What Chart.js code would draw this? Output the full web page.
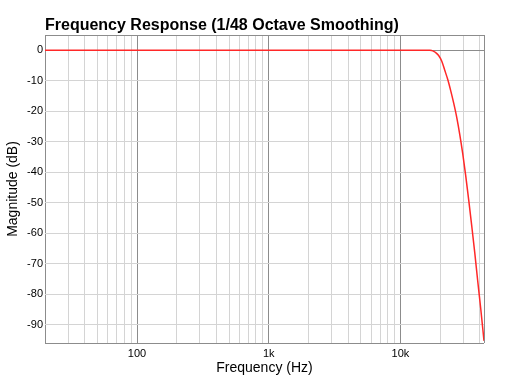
<!DOCTYPE html>
<html><head><meta charset="utf-8">
<style>html,body{margin:0;padding:0;background:#fff;overflow:hidden;}</style>
<script src="https://cdn.jsdelivr.net/npm/chart.js@4/dist/chart.umd.min.js"></script>
</head><body>
<canvas id="c" width="517" height="382" style="display:block;width:517px;height:382px"></canvas>
<script>
// ---- data ----
const frequencies = [20, 100, 1000, 10000, 14000, 16100, 16700, 17600, 18500, 19500, 20600, 21700, 22900, 24100, 25400, 26800, 28200, 29700, 31300, 33000, 34800, 36700, 38600, 40700, 43100];
const magnitudes  = [0, 0, 0, 0, 0, 0, -0.02, -0.2, -0.75, -1.73, -3.6, -6.55, -9.69, -13.32, -17.44, -22.16, -27.56, -33.84, -41.1, -49.16, -57.7, -66.55, -75.6, -84.7, -95.3];
const xMajorTicks = [100, 1000, 10000];
const xMinorTicks = [20,30,40,50,60,70,80,90,200,300,400,500,600,700,800,900,2000,3000,4000,5000,6000,7000,8000,9000,20000,30000,40000];
const xTickLabels = {100: '100', 1000: '1k', 10000: '10k'};
const yTicks = [-90,-80,-70,-60,-50,-40,-30,-20,-10,0];
const xMin = 20, xMax = 43100, yMin = -96, yMax = 5;

const FONT = "'Liberation Sans', Arial, Helvetica, sans-serif";
const MAJOR = 'rgb(140,140,140)';
const MINOR = 'rgb(212,212,212)';

const points = frequencies.map((f, i) => ({x: f, y: magnitudes[i]}));

new Chart(document.getElementById('c'), {
  type: 'line',
  data: { datasets: [{
    data: points,
    borderColor: 'rgb(255,40,40)',
    borderWidth: 1.5,
    pointRadius: 0,
    cubicInterpolationMode: 'monotone',
    fill: false
  }]},
  options: {
    responsive: false,
    devicePixelRatio: 1,
    animation: false,
    layout: { padding: { left: 0, right: 33, top: 0, bottom: 0 } },
    plugins: {
      legend: { display: false },
      tooltip: { enabled: false },
      title: {
        display: true,
        text: 'Frequency Response (1/48 Octave Smoothing)',
        align: 'start',
        fullSize: false,
        color: '#000',
        font: { family: FONT, size: 16, weight: 'bold', lineHeight: 1 },
        padding: { top: 18, bottom: 1 }
      }
    },
    scales: {
      x: {
        type: 'logarithmic',
        min: xMin, max: xMax,
        afterBuildTicks: (s) => {
          const vals = [xMin, ...xMinorTicks, ...xMajorTicks, xMax].sort((a, b) => a - b);
          s.ticks = vals.map(v => ({value: v}));
        },
        afterFit: (s) => { s.height = 39; },
        border: { display: false },
        grid: {
          drawTicks: false,
          lineWidth: 1,
          color: (ctx) => {
            const v = ctx.tick && ctx.tick.value;
            if (xMajorTicks.includes(v) || v === xMin || v === xMax) return MAJOR;
            return MINOR;
          }
        },
        ticks: {
          autoSkip: false, maxRotation: 0, minRotation: 0, padding: 4,
          color: '#000',
          font: { family: FONT, size: 11 },
          callback: (v) => xTickLabels[v] || ''
        },
        title: {
          display: true, text: 'Frequency (Hz)', color: '#000',
          font: { family: FONT, size: 14 },
          padding: { top: 0, bottom: 5 }
        }
      },
      y: {
        type: 'linear',
        min: yMin, max: yMax,
        afterBuildTicks: (s) => {
          s.ticks = [yMin, ...yTicks, yMax].map(v => ({value: v}));
        },
        afterFit: (s) => { s.width = 45; },
        border: { display: false },
        grid: {
          drawTicks: false,
          lineWidth: 1,
          color: (ctx) => {
            const v = ctx.tick && ctx.tick.value;
            if (v === 0 || v === yMin || v === yMax) return MAJOR;
            return MINOR;
          }
        },
        ticks: {
          autoSkip: false, padding: 2,
          color: '#000',
          font: { family: FONT, size: 11 },
          callback: (v) => yTicks.includes(v) ? String(v) : ''
        },
        title: {
          display: true, text: 'Magnitude (dB)', color: '#000',
          font: { family: FONT, size: 14 },
          padding: { top: 5, bottom: 0 }
        }
      }
    }
  }
});
</script>
</body></html>
